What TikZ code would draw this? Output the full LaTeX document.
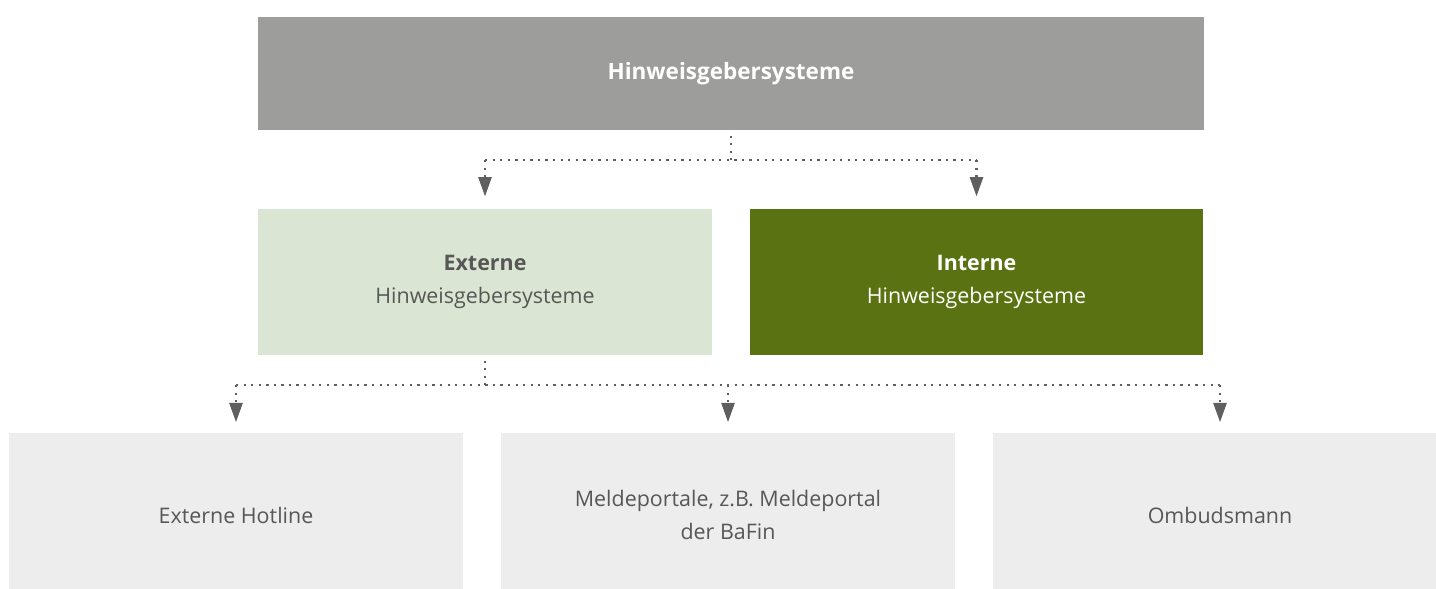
\documentclass[tikz,border=0pt]{standalone}
\usepackage{fontspec}
\setmainfont{Open Sans}
\usetikzlibrary{arrows.meta}
\definecolor{boxgray}{HTML}{9D9D9C}
\definecolor{extgreen}{HTML}{DAE5D4}
\definecolor{intgreen}{HTML}{5A7211}
\definecolor{leafgray}{HTML}{EDEDED}
\definecolor{txtgray}{HTML}{575756}
\definecolor{dotgray}{HTML}{5F5F5F}
\tikzset{
  box/.style={inner sep=0pt, align=center, font=\fontsize{12.2}{18.5}\selectfont},
  topbox/.style={box, fill=boxgray, text=white, font=\fontsize{12.8}{18.5}\selectfont\bfseries,
    minimum width=18.92cm, minimum height=2.26cm},
  midbox/.style={box, minimum width=9.08cm, minimum height=2.92cm},
  leafbox/.style={box, fill=leafgray, text=txtgray, minimum width=9.08cm, minimum height=3.28cm},
  dotline/.style={dotgray, line width=1.3pt, dash pattern=on 1.3pt off 3pt},
  tip/.style={-{Triangle[width=7.5pt,length=11pt]}},
}
\begin{document}
\begin{tikzpicture}[x=0.02cm, y=-0.02cm]
  \useasboundingbox (0,0) rectangle (1436,588);
  \clip (0,0) rectangle (1436,588);
  % boxes
  \node[topbox] (sys) at (731,73.5) {Hinweisgebersysteme};
  \node[midbox, fill=extgreen, text=txtgray] (ext) at (485,282) {\textbf{Externe}\\Hinweisgebersysteme};
  \node[midbox, fill=intgreen, text=white] (int) at (976.5,282) {\textbf{Interne}\\Hinweisgebersysteme};
  \node[leafbox] (hot) at (236,515) {Externe Hotline};
  \node[leafbox] (portal) at (728,515) {Meldeportale, z.B. Meldeportal\\der BaFin};
  \node[leafbox] (omb) at (1220,515) {Ombudsmann};
  % connectors
  \coordinate (j1) at (731,160);
  \coordinate (j2) at (485,385);
  \draw[dotline] ([yshift=-3pt]sys.south) -- (j1);
  \draw[dotline] (j1 -| ext) -- (j1 -| int);
  \draw[dotline, tip, shorten >=7pt] (j1 -| ext) -- (ext.north);
  \draw[dotline, tip, shorten >=7pt] (j1 -| int) -- (int.north);
  \draw[dotline] ([yshift=-3pt]ext.south) -- (j2);
  \draw[dotline] (j2 -| hot) -- (j2 -| omb);
  \draw[dotline, tip, shorten >=6pt] (j2 -| hot) -- (hot.north);
  \draw[dotline, tip, shorten >=6pt] (j2 -| portal) -- (portal.north);
  \draw[dotline, tip, shorten >=6pt] (j2 -| omb) -- (omb.north);
\end{tikzpicture}
\end{document}
